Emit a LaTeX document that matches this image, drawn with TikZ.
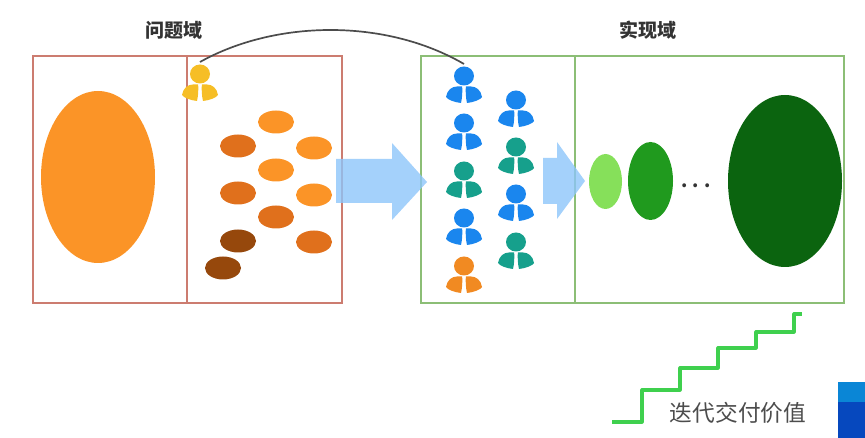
\documentclass[tikz,border=0pt]{standalone}
\usepackage{fontspec}
\setmainfont{Noto Sans CJK SC}
\usetikzlibrary{shapes.geometric}
\definecolor{frameRed}{HTML}{CC7C70}
\definecolor{frameGreen}{HTML}{8CBE76}
\definecolor{orangeA}{HTML}{FB9427}
\definecolor{orangeB}{HTML}{E0701C}
\definecolor{brownC}{HTML}{96480C}
\definecolor{personBlue}{HTML}{1A86EE}
\definecolor{personTeal}{HTML}{16A08C}
\definecolor{personOrange}{HTML}{F18A22}
\definecolor{personYellow}{HTML}{F6BE26}
\definecolor{arrowBlue}{HTML}{8DC5FA}
\definecolor{valueLight}{HTML}{86E05A}
\definecolor{valueMid}{HTML}{209A1E}
\definecolor{valueDark}{HTML}{0B640F}
\definecolor{stairGreen}{HTML}{3FD04E}
\definecolor{tabTop}{HTML}{0A86D6}
\definecolor{tabBottom}{HTML}{0648BE}
\tikzset{
  frameline/.style={line width=1.4pt},
  task/.style={ellipse,inner sep=0pt,minimum width=36pt,minimum height=23pt,fill=#1},
  flow/.style={fill=arrowBlue,fill opacity=.8,draw=none},
  heading/.style={font=\bfseries\fontsize{19}{19}\selectfont,text=black!80},
  person/.pic={
    \coordinate (-top) at (0,-12);
    \fill (0,0) circle [x radius=10,y radius=9.5];
    \fill (-1.8,10.5) -- (-7,10.5) .. controls (-12,10.5) and (-17,14) .. (-18,21)
      .. controls (-17,23.5) and (-9,26.5) .. (-3,27)
      .. controls (-1.8,22) and (-1.5,16) .. (-1.8,10.5) -- cycle;
    \fill (1.8,10.5) -- (7,10.5) .. controls (12,10.5) and (17,14) .. (18,21)
      .. controls (17,23.5) and (9,26.5) .. (3,27)
      .. controls (1.8,22) and (1.5,16) .. (1.8,10.5) -- cycle;
  }
}
\begin{document}
\begin{tikzpicture}[x=1pt,y=-1pt]
\useasboundingbox (0,0) rectangle (865,438);

% problem and solution frames
\draw[frameline,frameRed] (33,56) rectangle (342,303) (187,56) -- (187,303);
\draw[frameline,frameGreen] (421,56) rectangle (844,303) (575,56) -- (575,303);

% headings
\node[heading] (problem) at (174,30) {问题域};
\node[heading] (solution) at (648,30) {实现域};

% problem space
\node[ellipse,inner sep=0pt,minimum width=114pt,minimum height=172pt,fill=orangeA] (whole) at (98,177) {};
\node[task=orangeA] (t1) at (276,122) {};
\node[task=orangeB] (t2) at (238,146) {};
\node[task=orangeA] (t3) at (314,148) {};
\node[task=orangeA] (t4) at (276,170) {};
\node[task=orangeB] (t5) at (238,193) {};
\node[task=orangeA] (t6) at (314,195) {};
\node[task=orangeB] (t7) at (276,217) {};
\node[task=brownC] (t8) at (238,241) {};
\node[task=orangeB] (t9) at (314,242) {};
\node[task=brownC] (t10) at (223,268) {};

% flow arrows
\fill[flow] (336,159) -- (392,159) -- (392,143) -- (427,182) -- (392,220) -- (392,203) -- (336,203) -- cycle;
\fill[flow] (543,158) -- (557,158) -- (557,142) -- (585,181) -- (557,219) -- (557,204) -- (543,204) -- cycle;

% people
\pic[personYellow] (py) at (200,74) {person};
\pic[personBlue] (pa) at (464,76) {person};
\pic[personBlue] at (464,123) {person};
\pic[personTeal] at (464,171) {person};
\pic[personBlue] at (464,218) {person};
\pic[personOrange] at (464,266) {person};
\pic[personBlue] at (516,100) {person};
\pic[personTeal] at (516,147) {person};
\pic[personBlue] at (516,194) {person};
\pic[personTeal] at (516,242) {person};

% link between the two domains
\draw[line width=1.7pt,black!70] (py-top) .. controls (275,20) and (385,18) .. (pa-top);

% delivered increments
\node[ellipse,inner sep=0pt,minimum width=33pt,minimum height=55pt,fill=valueLight] (v1) at (605.5,181.5) {};
\node[ellipse,inner sep=0pt,minimum width=45pt,minimum height=78pt,fill=valueMid] (v2) at (650.5,181) {};
\node[font=\bfseries\fontsize{18}{18}\selectfont,text=black!80] (dots) at (696,186) {. . .};
\node[ellipse,inner sep=0pt,minimum width=114pt,minimum height=172pt,fill=valueDark] (v3) at (785,181) {};

% iteration staircase
\draw[line width=3.2pt,stairGreen,line join=round]
  (612,422) -- (642,422) -- (642,390) -- (680,390) -- (680,368) -- (718,368) -- (718,348)
  -- (756,348) -- (756,332) -- (794,332) -- (794,314) -- (802,314);
\node[font=\fontsize{22.7}{23}\selectfont,text=black!70] (label) at (738,413) {迭代交付价值};

% corner tab
\fill[tabBottom] (838,382) rectangle (865,438);
\fill[tabTop] (838,382) rectangle (865,402);
\end{tikzpicture}
\end{document}
